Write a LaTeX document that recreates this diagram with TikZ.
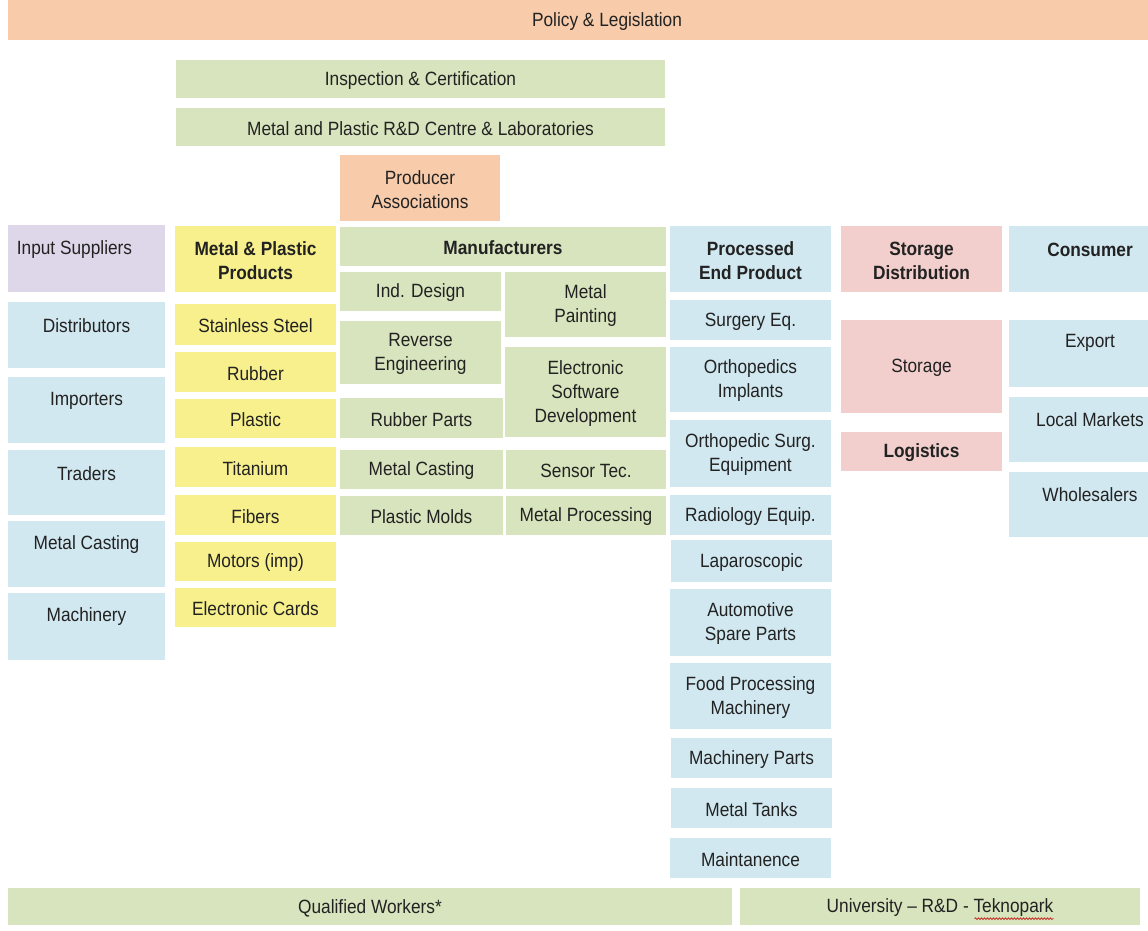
\documentclass[tikz,border=0pt]{standalone}
\usepackage{fontspec}
\setmainfont{Liberation Sans}[FakeStretch=0.9]
\usetikzlibrary{decorations.pathmorphing}
\definecolor{peach}{HTML}{F8CCAB}
\definecolor{green}{HTML}{D7E4BD}
\definecolor{purple}{HTML}{DED7E9}
\definecolor{yellow}{HTML}{F8F08C}
\definecolor{blue}{HTML}{D1E8F0}
\definecolor{pink}{HTML}{F2CFCD}
\definecolor{txt}{HTML}{222222}
\newcommand\fs{\fontsize{19.2}{24}\selectfont}
\newcommand\hb{\fontsize{19.2}{24}\selectfont\bfseries}
\tikzset{
  box/.style={rectangle, inner sep=0pt, outer sep=0pt, anchor=north west, draw=none},
  lbl/.style={font=\fs, align=center, inner sep=0pt, text=txt, yshift=-1.5pt},
  hd/.style={font=\hb},
}
% #1 text options, #2 name, #3 colour, #4 x1, #5 y1, #6 x2, #7 y2, #8 text
\newcommand\bx[8][]{%
  \node[box, fill=#3, minimum width={(#6-#4)*1pt}, minimum height={(#7-#5)*1pt}] (#2) at (#4,#5) {};
  \node[lbl,#1] (#2t) at (#2.center) {#8};}
\begin{document}
\begin{tikzpicture}[x=1pt,y=-1pt]
\useasboundingbox[fill=white] (0,0) rectangle (1148,931);
% top
\bx[xshift=29pt]{policy}{peach}{8}{0}{1148}{40}{Policy \& Legislation}
\bx{insp}{green}{176}{60}{665}{98}{Inspection \& Certification}
\bx{rdc}{green}{176}{108}{665}{146}{Metal and Plastic R\&D Centre \& Laboratories}
\bx{prod}{peach}{340}{155}{500}{221}{Producer\\Associations}
% header row
\bx[xshift=-12pt,yshift=10.5pt]{inp}{purple}{8}{225}{165}{292}{Input Suppliers}
\bx[hd]{mpp}{yellow}{175}{226}{336}{292}{Metal \& Plastic\\Products}
\bx[hd]{manu}{green}{340}{227}{666}{266}{Manufacturers}
\bx[hd]{pep}{blue}{670}{226}{831}{292}{Processed\\End Product}
\bx[hd]{sd}{pink}{841}{226}{1002}{292}{Storage\\Distribution}
\bx[hd,xshift=11.5pt,yshift=11pt]{cons}{blue}{1009}{226}{1148}{292}{Consumer}
% input suppliers column
\bx[yshift=10.5pt]{dist}{blue}{8}{302}{165}{368}{Distributors}
\bx[yshift=10.5pt]{imp}{blue}{8}{377}{165}{443}{Importers}
\bx[yshift=10.5pt]{trad}{blue}{8}{450}{165}{515}{Traders}
\bx[yshift=11pt]{mcast}{blue}{8}{521}{165}{587}{Metal Casting}
\bx[yshift=11pt]{mach}{blue}{8}{593}{165}{660}{Machinery}
% metal & plastic products column
\bx{ss}{yellow}{175}{304}{336}{345}{Stainless Steel}
\bx{rub}{yellow}{175}{352}{336}{392}{Rubber}
\bx{pla}{yellow}{175}{399}{336}{438}{Plastic}
\bx{tit}{yellow}{175}{447}{336}{487}{Titanium}
\bx{fib}{yellow}{175}{495}{336}{535}{Fibers}
\bx{mot}{yellow}{175}{542}{336}{581}{Motors (imp)}
\bx{ecard}{yellow}{175}{588}{336}{627}{Electronic Cards}
% manufacturers
\bx{ind}{green}{340}{272}{501}{311}{Ind. Design}
\bx{mpaint}{green}{505}{272}{666}{337}{Metal\\Painting}
\bx{rev}{green}{340}{321}{501}{384}{Reverse\\Engineering}
\bx{esd}{green}{505}{347}{666}{437}{Electronic\\Software\\Development}
\bx{rubp}{green}{340}{398}{503}{438}{Rubber Parts}
\bx{mcast2}{green}{340}{450}{503}{489}{Metal Casting}
\bx{sens}{green}{506}{450}{666}{489}{Sensor Tec.}
\bx{pmold}{green}{340}{496}{503}{535}{Plastic Molds}
\bx{mproc}{green}{506}{496}{666}{535}{Metal Processing}
% processed end products
\bx{surg}{blue}{670}{300}{831}{340}{Surgery Eq.}
\bx{orth}{blue}{670}{347}{831}{412}{Orthopedics\\Implants}
\bx{osurg}{blue}{670}{420}{831}{487}{Orthopedic Surg.\\Equipment}
\bx{rad}{blue}{670}{495}{831}{535}{Radiology Equip.}
\bx{lap}{blue}{671}{540}{832}{582}{Laparoscopic}
\bx{auto}{blue}{670}{589}{831}{656}{Automotive\\Spare Parts}
\bx{food}{blue}{670}{663}{831}{729}{Food Processing\\Machinery}
\bx{mparts}{blue}{671}{738}{832}{778}{Machinery Parts}
\bx{tanks}{blue}{671}{788}{832}{828}{Metal Tanks}
\bx{maint}{blue}{670}{838}{831}{878}{Maintanence}
% storage
\bx{stor}{pink}{841}{320}{1002}{413}{Storage}
\bx[hd]{logi}{pink}{841}{432}{1002}{471}{Logistics}
% consumer
\bx[xshift=11.5pt,yshift=12.5pt]{exp}{blue}{1009}{320}{1148}{387}{Export}
\bx[xshift=11.5pt,yshift=11.5pt]{lmk}{blue}{1009}{397}{1148}{462}{Local Markets}
\bx[xshift=11.5pt,yshift=11.5pt]{whole}{blue}{1009}{472}{1148}{537}{Wholesalers}
% bottom
\bx{qw}{green}{8}{888}{732}{925}{Qualified Workers*}
\bx{univ}{green}{740}{888}{1140}{925}{University -- R\&D - Teknopark}
\draw[red!75!black, line width=0.6pt, decorate, decoration={snake, amplitude=0.9pt, segment length=3pt}]
  ([xshift=-79pt,yshift=-1.5pt]univt.south east) -- ([yshift=-1.5pt]univt.south east);
\end{tikzpicture}
\end{document}
